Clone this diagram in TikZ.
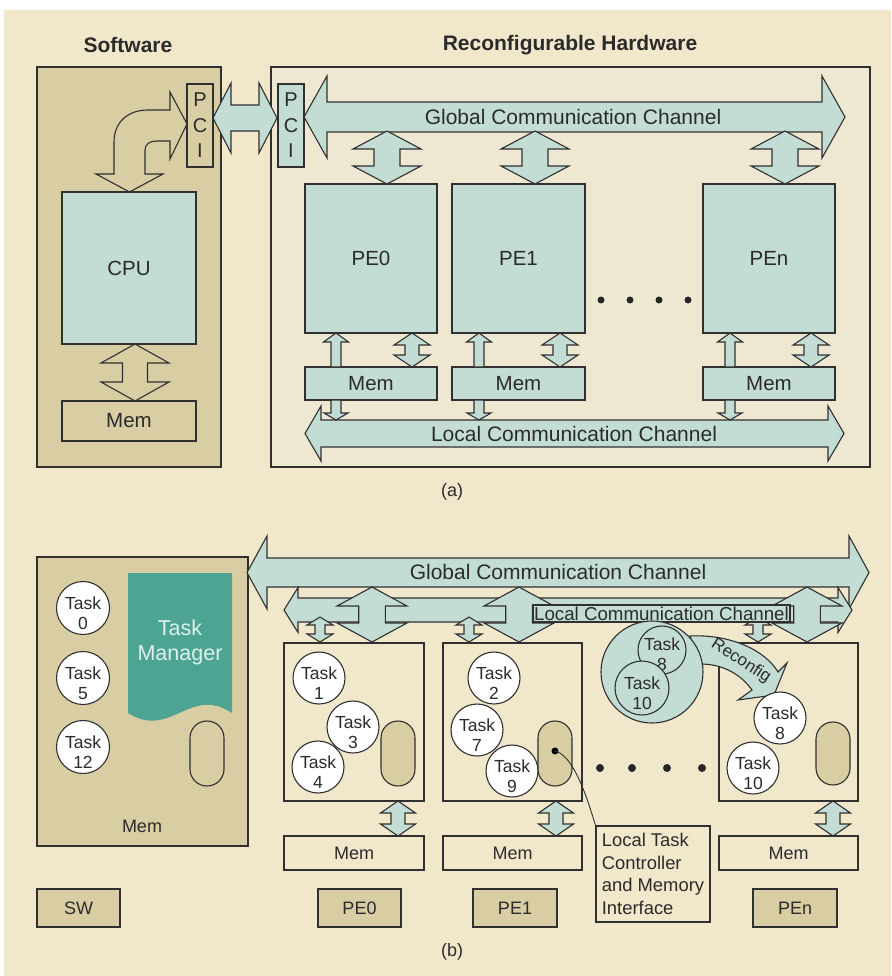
\documentclass[tikz,border=0pt]{standalone}
\usepackage{fontspec}
\setmainfont{Liberation Sans}
\definecolor{bgc}{HTML}{F1E7CB}
\definecolor{swtan}{HTML}{D9CDA3}
\definecolor{hwc}{HTML}{EEE8D3}
\definecolor{teal1}{HTML}{C3DDD5}
\definecolor{tmg}{HTML}{4DA492}
\definecolor{tmt}{HTML}{DDF1EC}
\definecolor{txc}{HTML}{2B2B2B}
\definecolor{lnc}{HTML}{303030}
% horizontal double block arrow: style, yc, xl, xr, head half, head len, shaft half
\newcommand{\hdarr}[7]{\draw[#1] (#3,#2) -- (#3+#6,#2-#5) -- (#3+#6,#2-#7) -- (#4-#6,#2-#7) -- (#4-#6,#2-#5) -- (#4,#2) -- (#4-#6,#2+#5) -- (#4-#6,#2+#7) -- (#3+#6,#2+#7) -- (#3+#6,#2+#5) -- cycle;}
% vertical double block arrow: style, x, ytop, ybot, head half, head len, shaft half
\newcommand{\vdarr}[7]{\draw[#1] (#2,#3) -- (#2+#5,#3+#6) -- (#2+#7,#3+#6) -- (#2+#7,#4-#6) -- (#2+#5,#4-#6) -- (#2,#4) -- (#2-#5,#4-#6) -- (#2-#7,#4-#6) -- (#2-#7,#3+#6) -- (#2-#5,#3+#6) -- cycle;}
% up block arrow (tip at top)
\newcommand{\uparr}[7]{\draw[#1] (#2,#3) -- (#2+#5,#3+#6) -- (#2+#7,#3+#6) -- (#2+#7,#4) -- (#2-#7,#4) -- (#2-#7,#3+#6) -- (#2-#5,#3+#6) -- cycle;}
% down block arrow (tip at bottom)
\newcommand{\dnarr}[7]{\draw[#1] (#2-#7,#3) -- (#2+#7,#3) -- (#2+#7,#4-#6) -- (#2+#5,#4-#6) -- (#2,#4) -- (#2-#5,#4-#6) -- (#2-#7,#4-#6) -- cycle;}
\begin{document}
\begin{tikzpicture}[x=1pt,y=-1pt]
\tikzset{
 ln/.style={draw=lnc, line width=1.1pt},
 tealsh/.style={ln, fill=teal1},
 opensh/.style={ln},
 tealbox/.style={ln, fill=teal1, inner sep=0pt, text=txc},
 tanbox/.style={ln, fill=swtan, inner sep=0pt, text=txc},
 plainbox/.style={ln, inner sep=0pt, text=txc},
 fa/.style={font=\fontsize{20.5}{24}\selectfont},
 fb/.style={font=\fontsize{18}{22}\selectfont},
 title/.style={text=txc, inner sep=0pt, font=\fontsize{21}{25}\selectfont\bfseries},
 chtxt/.style={text=txc, inner sep=0pt, font=\fontsize{21}{25}\selectfont},
 taskc/.style={circle, ln, fill=white, minimum size=52pt, inner sep=0pt},
 tasktxt/.style={align=center, text=txc, font=\fontsize{17.5}{20.5}\selectfont, inner sep=0pt},
 blackdot/.style={circle, fill=black!85, minimum size=8pt, inner sep=0pt},
 ovalsh/.style={ln, fill=swtan, rounded corners=16.9pt}
}
\useasboundingbox (0,0) rectangle (891,976);
\fill[white] (0,0) rectangle (891,976);
\fill[bgc] (4,10) rectangle (891,976);

% ================= (a) =================
\node[title] (tsw) at (128,45) {Software};
\node[title] (thw) at (570,45) {Reconfigurable Hardware};

\node[tanbox, minimum width=184pt, minimum height=400pt] (swbox) at (129,267) {};
\node[ln, fill=hwc, minimum width=599pt, minimum height=400pt, inner sep=0pt] (hwbox) at (570.5,267) {};

\node[tanbox, minimum width=26pt, minimum height=83pt, align=center, font=\fontsize{20}{25.5}\selectfont] (pcis) at (200,125.5) {P\\C\\I};
\node[tealbox, minimum width=26pt, minimum height=83pt, align=center, font=\fontsize{20}{25.5}\selectfont] (pcih) at (291,125.5) {P\\C\\I};

% PCI link
\hdarr{tealsh}{118}{213}{277}{35}{18}{13}

% curved arrow CPU <-> PCI
\draw[opensh] (129.5,192) -- (163,174) -- (145,174) -- (145,150)
  .. controls (145,144) and (150,141) .. (157,141) -- (170,141) -- (170,159) -- (187,124)
  -- (170,92) -- (170,110) -- (148,110) .. controls (128,110) and (114,122) .. (114,142)
  -- (114,174) -- (96,174) -- cycle;

\node[tealbox, fa, minimum width=134pt, minimum height=152pt] (cpu) at (129,268) {CPU};
\node[tanbox, fa, minimum width=134pt, minimum height=40pt] (mems) at (129,421) {Mem};
\vdarr{opensh}{135}{344}{401}{34}{19}{12.5}

% global channel (a)
\hdarr{tealsh}{117}{304}{845}{41}{23}{15}
\node[chtxt] (gcha) at (573,117) {Global Communication Channel};

% PEs (a)
\node[tealbox, fa, minimum width=132pt, minimum height=149pt] (pe0a) at (371,258.5) {PE0};
\node[tealbox, fa, minimum width=133pt, minimum height=149pt] (pe1a) at (518.5,258.5) {PE1};
\node[tealbox, fa, minimum width=132pt, minimum height=149pt] (pena) at (769,258.5) {PEn};
\foreach \x in {387,535,785}{\vdarr{tealsh}{\x}{131}{184}{34}{18}{13}}

\node[tealbox, fa, minimum width=132pt, minimum height=33pt] (mem0a) at (371,383.5) {Mem};
\node[tealbox, fa, minimum width=133pt, minimum height=33pt] (mem1a) at (518.5,383.5) {Mem};
\node[tealbox, fa, minimum width=132pt, minimum height=33pt] (memna) at (769,383.5) {Mem};
\foreach \x in {336,479,730}{\uparr{tealsh}{\x}{333}{367}{12.5}{9}{5}}
\foreach \x in {412,560,811}{\vdarr{tealsh}{\x}{333}{367}{18}{12}{7}}

% local channel (a)
\hdarr{tealsh}{433.5}{305}{844}{27.5}{16}{13.5}
\node[chtxt] (lcha) at (574,433.5) {Local Communication Channel};
\foreach \x in {336,479,730}{\dnarr{tealsh}{\x}{400}{420}{12}{7}{5}}

\foreach \x/\n in {601/1,630/2,659/3,688/4}{\node[blackdot, minimum size=7pt] (da\n) at (\x,300) {};}

\node[text=txc, inner sep=0pt, font=\fontsize{18}{22}\selectfont] (capa) at (452,492) {(a)};

% ================= (b) =================
\node[tanbox, minimum width=211pt, minimum height=289pt] (swboxb) at (142.5,701.5) {};
\foreach \y/\n in {608/0,678/5,747/12}{
  \node[taskc, minimum size=53pt] (sw\n) at (83,\y) {};
  \node[tasktxt] (swt\n) at ([yshift=-5pt]sw\n.center) {Task\\\n};
}
\fill[tmg] (128,573) -- (232,573) -- (232,713) .. controls (190,685) and (170,740) .. (128,713) -- cycle;
\node[align=center, text=tmt, inner sep=0pt, font=\fontsize{21.5}{25}\selectfont] (tm) at (180,642) {Task\\Manager};
\draw[ovalsh] (190,721) rectangle (224,786);
\node[text=txc, inner sep=0pt, font=\fontsize{18}{22}\selectfont] (memsw) at (142,826) {Mem};
\node[tanbox, fb, minimum width=83pt, minimum height=38pt] (lsw) at (78.5,908) {SW};

% channels (b)
\hdarr{tealsh}{572.5}{247}{869}{36.5}{20}{14.5}
\node[chtxt] (gchb) at (558,572) {Global Communication Channel};
\hdarr{tealsh}{610}{284}{852}{22.5}{14}{12}
\foreach \x in {372,519,807}{\vdarr{tealsh}{\x}{587}{642}{35}{19}{13.3}}
\foreach \x in {320,469,758}{\vdarr{tealsh}{\x}{617}{642}{13}{8}{5}}
\node[tealbox, minimum width=257pt, minimum height=17pt, font=\fontsize{18.7}{22}\selectfont] (lchb) at (661.5,613.5) {Local Communication Channel};

% PE boxes (b)
\node[plainbox, minimum width=140pt, minimum height=158pt] (pe0b) at (354,722) {};
\node[plainbox, minimum width=139pt, minimum height=158pt] (pe1b) at (512.5,722) {};
\node[plainbox, minimum width=139pt, minimum height=158pt] (penb) at (788.5,722) {};
\node[plainbox, fb, minimum width=140pt, minimum height=34pt] (mem0b) at (354,853) {Mem};
\node[plainbox, fb, minimum width=139pt, minimum height=34pt] (mem1b) at (512.5,853) {Mem};
\node[plainbox, fb, minimum width=139pt, minimum height=34pt] (memnb) at (788.5,853) {Mem};
\foreach \x in {398,556,833}{\vdarr{tealsh}{\x}{801}{836}{17.5}{12}{7}}
\node[tanbox, fb, minimum width=83pt, minimum height=38pt] (lpe0) at (359.5,908) {PE0};
\node[tanbox, fb, minimum width=84pt, minimum height=38pt] (lpe1) at (515,908) {PE1};
\node[tanbox, fb, minimum width=84pt, minimum height=38pt] (lpen) at (795,908) {PEn};

% tasks in PEs
\foreach \x/\y/\n in {319/678/1,353/727/3,318/767/4,494/678/2,477/730/7,512/771/9}{
  \node[taskc] (pt\n) at (\x,\y) {};
  \node[tasktxt] (ptt\n) at ([yshift=-5pt]pt\n.center) {Task\\\n};
}
\draw[ovalsh] (381,721) rectangle (415,786);
\draw[ovalsh] (538,721) rectangle (572,786);
\draw[ovalsh] (816,722) rectangle (850,785);

% reconfiguration
\draw[tealsh] (690,636) .. controls (730,634) and (765,650) .. (778,672) -- (787,663) -- (774,695)
  -- (738,700) -- (752,690) .. controls (742,676) and (725,664) .. (700,664) -- cycle;
\node[text=txc, inner sep=0pt, rotate=-33, font=\fontsize{17}{20}\selectfont] (rcf) at (741,661) {Reconfig};
\node[circle, tealbox, minimum size=102pt] (pool) at (652,672) {};
\node[taskc, fill=teal1, minimum size=48pt] (q8) at (662,650) {};
\node[tasktxt] (q8t) at ([yshift=-4pt]q8.center) {Task\\8};
\node[taskc, fill=teal1, minimum size=54pt] (q10) at (642,688) {};
\node[tasktxt] (q10t) at ([yshift=-5pt]q10.center) {Task\\10};

\node[taskc] (pt8) at (780,718) {};
\node[tasktxt] (ptt8) at ([yshift=-5pt]pt8.center) {Task\\8};
\node[taskc] (pt10) at (753,768) {};
\node[tasktxt] (ptt10) at ([yshift=-5pt]pt10.center) {Task\\10};

\foreach \x/\n in {600/1,632/2,667/3,702/4}{\node[blackdot] (db\n) at (\x,768) {};}

% local task controller
\node[plainbox, minimum width=114pt, minimum height=96pt, align=left, font=\fontsize{18.4}{22.7}\selectfont] (ltc) at (653,874) {Local Task\\Controller\\and Memory\\Interface};
\node[circle, fill=black, minimum size=7pt, inner sep=0pt] (ctl) at (555,751) {};
\draw[ln, line width=0.9pt] (ctl.center) .. controls (572,755) and (585,790) .. (ltc.north west);

\node[text=txc, inner sep=0pt, font=\fontsize{18}{22}\selectfont] (capb) at (452,952) {(b)};
\end{tikzpicture}
\end{document}
